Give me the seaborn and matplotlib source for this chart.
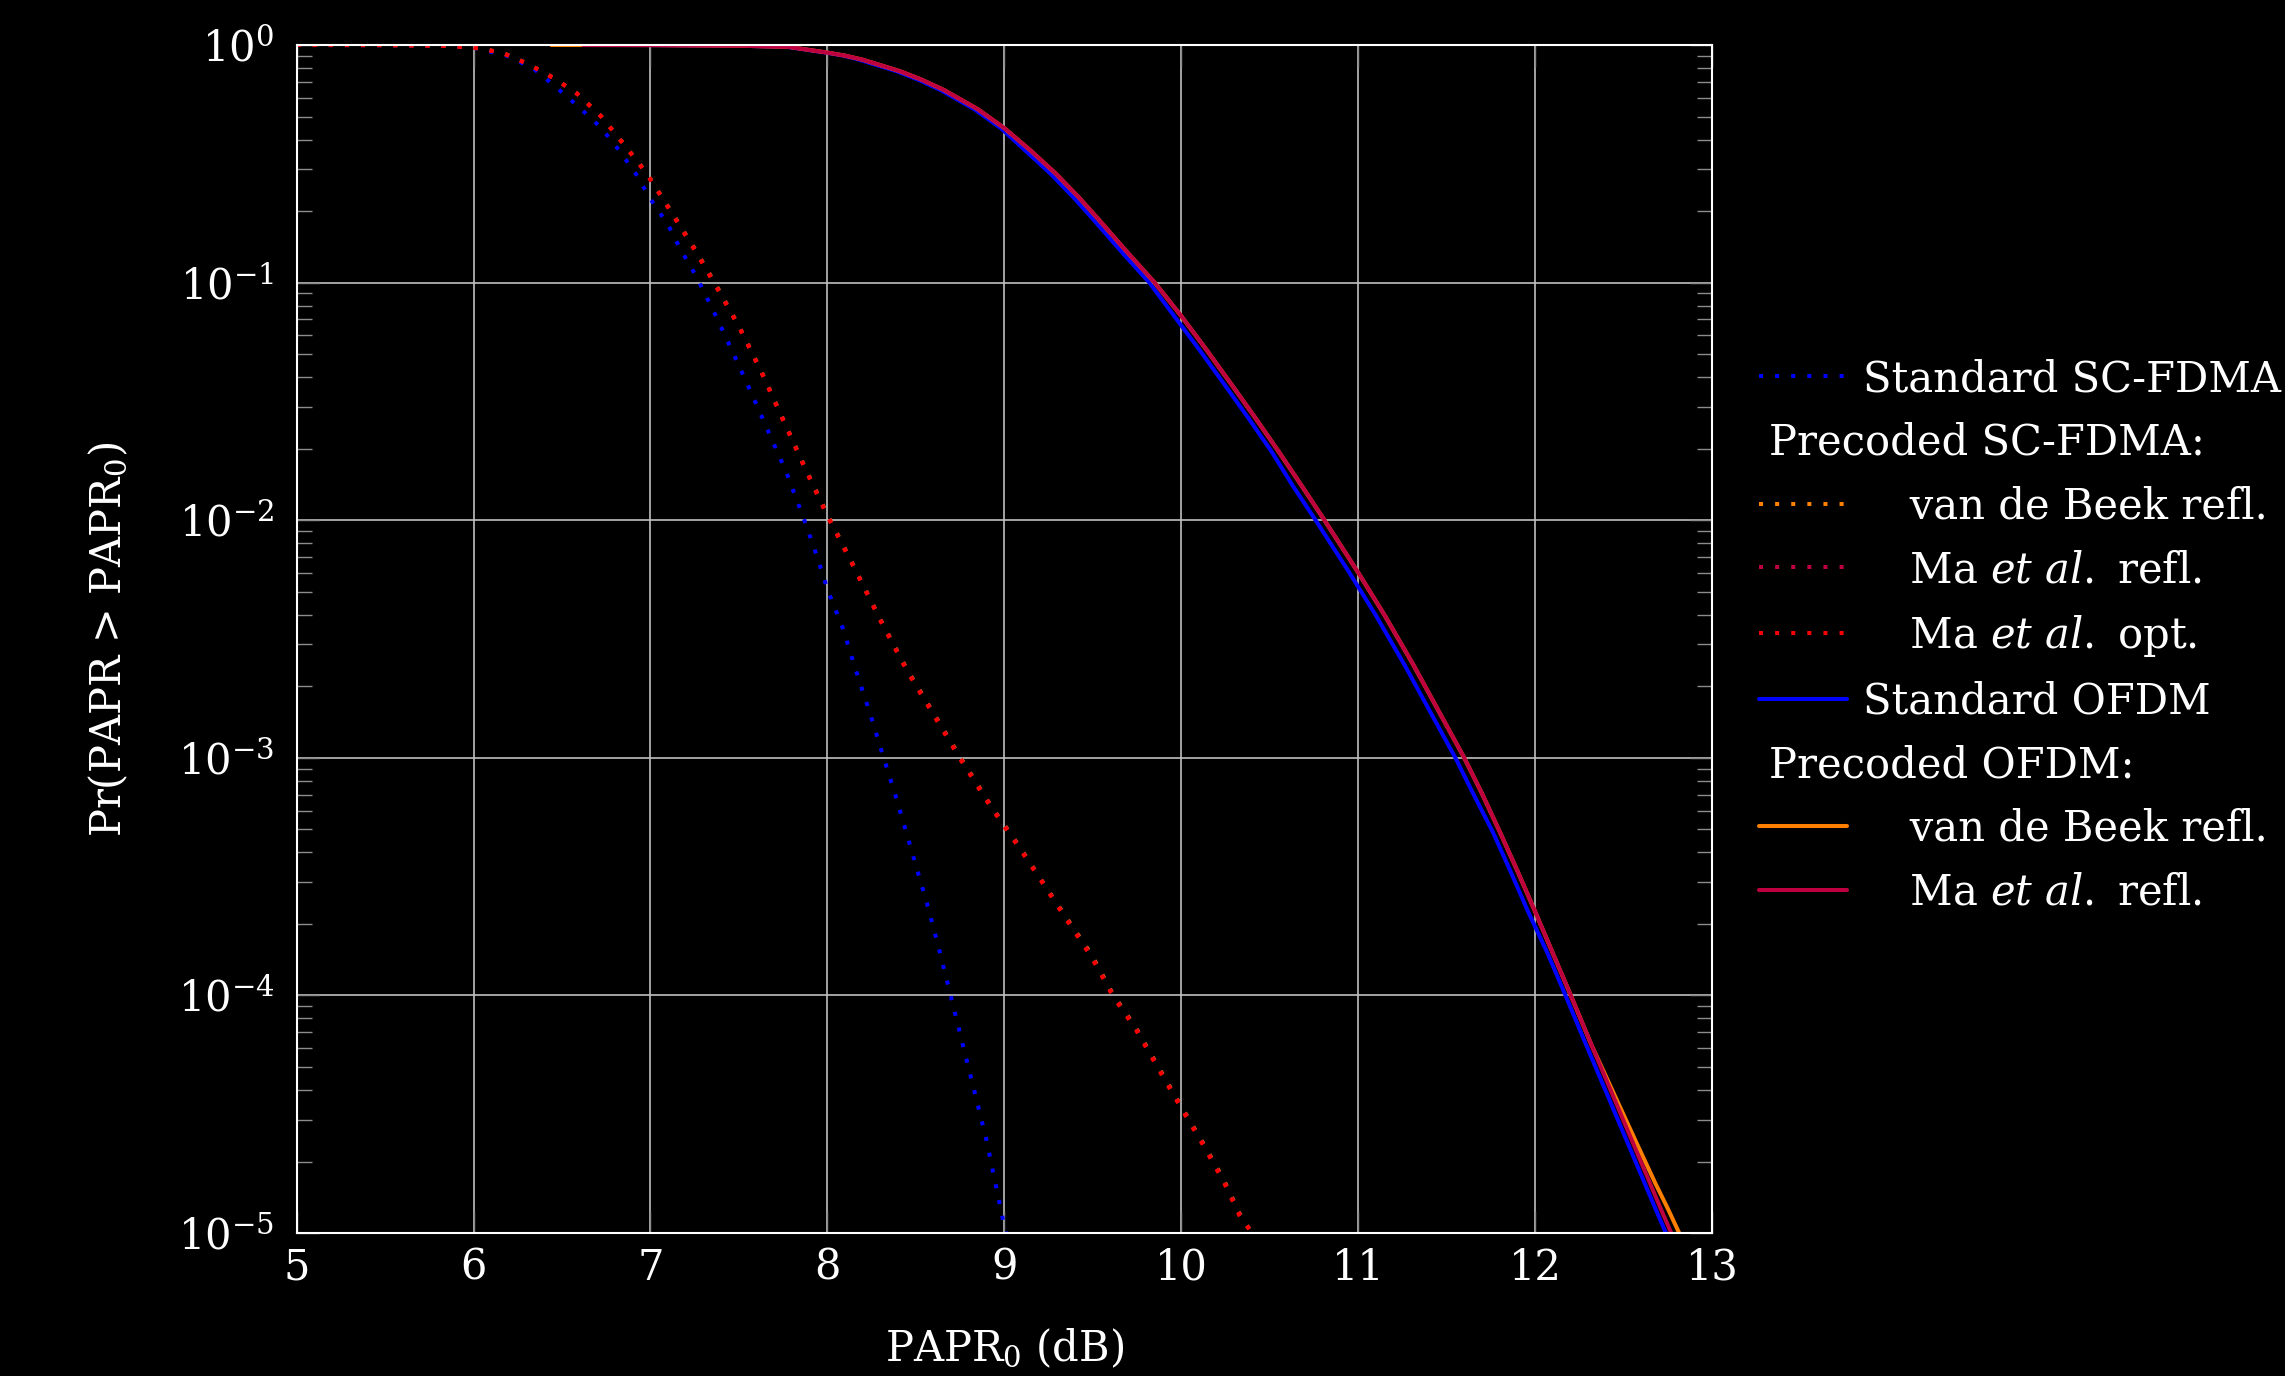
import numpy as np
import pandas as pd
import matplotlib
matplotlib.use("Agg")
import matplotlib.pyplot as plt
import seaborn as sns
from matplotlib.lines import Line2D
from matplotlib.text import Text
from matplotlib.legend_handler import HandlerBase
from matplotlib.ticker import LogLocator, NullLocator, NullFormatter, FixedLocator

# ---------------- data ----------------
# Standard SC-FDMA (blue dotted)
sc_std_x = [5.0, 5.5, 5.8, 6.0, 6.19, 6.34, 6.46, 6.59, 6.72, 6.82, 6.92, 7.0, 7.10, 7.17,
            7.26, 7.37, 7.47, 7.58, 7.68, 7.77, 7.87, 7.95, 8.0, 8.09, 8.165, 8.24, 8.315,
            8.39, 8.48, 8.57, 8.64, 8.70, 8.78, 8.84, 8.90, 8.95, 9.0, 9.01]
sc_std_p = [1.0, 0.998, 0.993, 0.975, 0.90, 0.794, 0.671, 0.553, 0.449, 0.363, 0.285, 0.225,
            0.175, 0.138, 0.106, 0.0724, 0.0501, 0.0331, 0.0224, 0.0158, 0.0100, 0.00676,
            0.00513, 0.00347, 0.00229, 0.00155, 0.00102, 6.76e-4, 3.98e-4, 2.34e-4, 1.48e-4,
            9.8e-5, 5.62e-5, 3.72e-5, 2.45e-5, 1.62e-5, 1.07e-5, 1.0e-5]

# Precoded SC-FDMA (dotted): van de Beek refl., Ma et al. refl., Ma et al. opt.
sc_pre_x = [5.0, 5.5, 5.8, 6.0, 6.16, 6.31, 6.46, 6.59, 6.72, 6.82, 6.94, 7.0, 7.12, 7.25,
            7.36, 7.50, 7.63, 7.75, 7.88, 8.0, 8.15, 8.30, 8.45, 8.62, 8.75, 8.93, 9.08,
            9.205, 9.35, 9.49, 9.615, 9.745, 9.875, 10.0, 10.12, 10.24, 10.33, 10.40]
sc_vdb_p = [1.0, 0.999, 0.994, 0.976, 0.93, 0.832, 0.722, 0.621, 0.503, 0.408, 0.315, 0.273,
            0.198, 0.139, 0.101, 0.0657, 0.0419, 0.0266, 0.0163, 0.0106, 0.00640, 0.00382,
            0.00236, 0.00146, 0.00101, 6.2e-4, 4.3e-4, 3.1e-4, 2.13e-4, 1.50e-4, 1.01e-4,
            7.3e-5, 4.95e-5, 3.42e-5, 2.42e-5, 1.68e-5, 1.21e-5, 1.0e-5]
sc_mar_p = [1.0, 0.999, 0.994, 0.976, 0.929, 0.831, 0.721, 0.620, 0.502, 0.407, 0.314, 0.272,
            0.197, 0.138, 0.100, 0.0655, 0.0417, 0.0265, 0.0162, 0.0105, 0.00638, 0.00380,
            0.00234, 0.00145, 0.00100, 6.17e-4, 4.27e-4, 3.09e-4, 2.11e-4, 1.48e-4, 1.0e-4,
            7.24e-5, 4.90e-5, 3.39e-5, 2.40e-5, 1.66e-5, 1.20e-5, 1.0e-5]
sc_mao_p = [1.0, 0.999, 0.994, 0.975, 0.928, 0.830, 0.720, 0.619, 0.501, 0.406, 0.313, 0.271,
            0.196, 0.137, 0.0995, 0.0652, 0.0414, 0.0263, 0.0161, 0.0104, 0.00633, 0.00377,
            0.00232, 0.00143, 9.9e-4, 6.1e-4, 4.22e-4, 3.06e-4, 2.09e-4, 1.46e-4, 9.9e-5,
            7.15e-5, 4.84e-5, 3.35e-5, 2.37e-5, 1.64e-5, 1.18e-5, 1.0e-5]

# OFDM (solid)
of_p = [1.0, 0.9989, 0.9931, 0.9817, 0.929, 0.902, 0.867, 0.776, 0.716, 0.646, 0.537, 0.447,
        0.359, 0.288, 0.229, 0.182, 0.133, 0.100, 0.0724, 0.0513, 0.0359, 0.0269, 0.0195,
        0.0140, 0.0100, 0.00603, 0.00398, 0.00248, 0.00160, 0.00100, 7.08e-4, 4.90e-4,
        3.35e-4, 2.26e-4, 1.51e-4, 1.01e-4, 6.17e-5, 3.80e-5, 2.43e-5, 1.62e-5, 1.27e-5,
        1.0e-5]
of_std_x = [6.60, 6.99, 7.49, 7.77, 7.99, 8.09, 8.18, 8.39, 8.51, 8.64, 8.83, 8.98, 9.12,
            9.26, 9.39, 9.51, 9.67, 9.82, 9.96, 10.11, 10.26, 10.38, 10.51, 10.63, 10.76,
            10.95, 11.10, 11.26, 11.40, 11.55, 11.65, 11.76, 11.86, 11.96, 12.07, 12.17,
            12.29, 12.41, 12.52, 12.62, 12.68, 12.74]
of_vdb_x = [6.44, 7.0, 7.5, 7.78, 8.0, 8.1, 8.2, 8.41, 8.53, 8.66, 8.85, 9.0, 9.15, 9.29,
            9.42, 9.54, 9.70, 9.85, 10.0, 10.15, 10.30, 10.42, 10.55, 10.68, 10.81, 11.0,
            11.15, 11.31, 11.45, 11.60, 11.70, 11.80, 11.90, 12.0, 12.10, 12.20, 12.32,
            12.45, 12.57, 12.68, 12.75, 12.815]
of_mar_x = [6.62, 7.0, 7.5, 7.78, 8.0, 8.1, 8.2, 8.41, 8.53, 8.66, 8.85, 9.0, 9.15, 9.29,
            9.42, 9.54, 9.70, 9.85, 10.0, 10.15, 10.30, 10.42, 10.55, 10.68, 10.81, 11.0,
            11.15, 11.31, 11.45, 11.60, 11.70, 11.80, 11.90, 12.0, 12.10, 12.20, 12.32,
            12.44, 12.55, 12.65, 12.71, 12.77]

x_ticks = [5, 6, 7, 8, 9, 10, 11, 12, 13]
y_ticks = [1e-5, 1e-4, 1e-3, 1e-2, 1e-1, 1e0]

BLUE, ORANGE, CRIMSON, RED = "#0000ff", "#ff8000", "#bf0040", "#ff0000"
DOT = (0, (1, 3))

series = [
    ("Standard SC-FDMA", sc_std_x, sc_std_p, BLUE, DOT),
    ("sc vdb", sc_pre_x, sc_vdb_p, ORANGE, DOT),
    ("sc ma refl", sc_pre_x, sc_mar_p, CRIMSON, DOT),
    ("sc ma opt", sc_pre_x, sc_mao_p, RED, DOT),
    ("Standard OFDM", of_std_x, of_p, BLUE, "-"),
    ("of vdb", of_vdb_x, of_p, ORANGE, "-"),
    ("of ma refl", of_mar_x, of_p, CRIMSON, "-"),
]

# ---------------- style ----------------
sns.set_theme(style="ticks")
plt.rcParams.update({
    "figure.facecolor": "black",
    "axes.facecolor": "black",
    "savefig.facecolor": "black",
    "text.color": "white",
    "axes.labelcolor": "white",
    "xtick.color": "#8c8c8c",
    "ytick.color": "#8c8c8c",
    "mathtext.fontset": "dejavuserif",
})
plt.rcParams["font.family"] = ["DejaVu Serif", "DejaVu Sans"]

FS = 30
LW = 2.9

fig = plt.figure(figsize=(22.85, 13.76), dpi=100)
ax = fig.add_axes([0.1298, 0.1039, 0.6194, 0.8634])
ax.set_yscale("log")

for name, xs, ps, col, ls in series:
    df = pd.DataFrame({"x": xs, "p": ps})
    sns.lineplot(data=df, x="x", y="p", ax=ax, color=col, linewidth=LW, linestyle=ls,
                 estimator=None, sort=False, legend=False, dash_capstyle="butt")

ax.set_xlim(5, 13)
ax.set_ylim(1e-5, 1)
ax.xaxis.set_major_locator(FixedLocator(x_ticks))
ax.xaxis.set_minor_locator(NullLocator())
ax.yaxis.set_major_locator(FixedLocator(y_ticks))
ax.yaxis.set_major_formatter(matplotlib.ticker.LogFormatterSciNotation())
ax.yaxis.set_minor_locator(LogLocator(base=10, subs=np.arange(2, 10), numticks=20))
ax.yaxis.set_minor_formatter(NullFormatter())

ax.set_axisbelow(True)
ax.grid(True, which="major", color="#c0c0c0", linewidth=1.2)
ax.tick_params(which="major", direction="in", length=15.5, width=1.0, color="#8c8c8c",
               left=True, right=True, bottom=True, top=True, labelcolor="white",
               labelsize=FS)
ax.tick_params(axis="x", which="major", pad=10)
ax.tick_params(axis="y", which="major", pad=16)
ax.tick_params(which="minor", direction="in", length=10.5, width=1.0, color="#8c8c8c",
               left=True, right=True)
for sp in ax.spines.values():
    sp.set_color("white")
    sp.set_linewidth(1.5)

ax.set_xlabel("PAPR$_0$ (dB)", fontsize=FS, color="white", va="center")
ax.xaxis.set_label_coords(0.5, -0.0976)
ax.set_ylabel("Pr(PAPR > PAPR$_0$)", fontsize=FS, color="white", va="center")
ax.yaxis.set_label_coords(-0.1325, 0.5)


# ---------------- legend ----------------
class Header:
    def __init__(self, text):
        self.text = text


class HeaderHandler(HandlerBase):
    def create_artists(self, legend, orig_handle, xdescent, ydescent, width, height,
                       fontsize, trans):
        t = Text(-xdescent + 7, 0, orig_handle.text, color="white", fontsize=fontsize,
                 ha="left", va="baseline", transform=trans)
        return [t]


def H(col, ls):
    return Line2D([], [], color=col, lw=LW, linestyle=ls, dash_capstyle="butt")


handles = [H(BLUE, DOT), Header("Precoded SC-FDMA:"), H(ORANGE, DOT), H(CRIMSON, DOT),
           H(RED, DOT), H(BLUE, "-"), Header("Precoded OFDM:"), H(ORANGE, "-"), H(CRIMSON, "-")]
IND = "   \u2006"
labels = ["Standard SC-FDMA", " ", IND + "van de Beek refl.", IND + r"Ma $\mathit{et\ al.}$ refl.",
          IND + r"Ma $\mathit{et\ al.}$ opt.", "Standard OFDM", " ", IND + "van de Beek refl.",
          IND + r"Ma $\mathit{et\ al.}$ refl."]

fig.legend(handles, labels, handler_map={Header: HeaderHandler()}, loc="center left",
           bbox_to_anchor=(0.770, 0.538), frameon=False, fontsize=FS, labelcolor="white",
           handlelength=2.11, handletextpad=0.38, labelspacing=0.52, borderpad=0,
           borderaxespad=0)

fig.savefig("out.png", dpi=100, facecolor="black")
